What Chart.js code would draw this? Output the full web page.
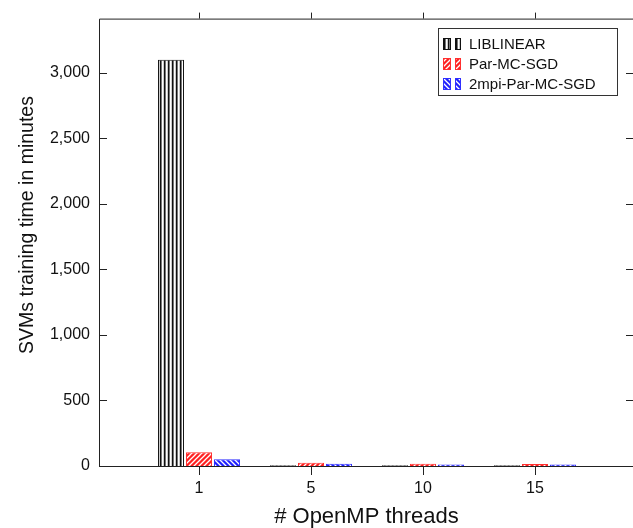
<!DOCTYPE html>
<html>
<head>
<meta charset="utf-8">
<script src="https://cdn.jsdelivr.net/npm/chart.js@4"></script>
<style>
  body { margin: 0; overflow: hidden; background: #fff; }
</style>
</head>
<body>
<canvas id="chart" width="640" height="528"></canvas>
<script>
// values
const threads = ["1", "5", "10", "15"];
const liblinear = [3100, 5, 5, 5];
const parMcSgd = [104, 25, 17, 15];
const mpiParMcSgd = [51, 17, 12, 12];
const seriesNames = ["LIBLINEAR", "Par-MC-SGD", "2mpi-Par-MC-SGD"];
const yTickValues = [0, 500, 1000, 1500, 2000, 2500, 3000];
const yMax = 3415;

const FONT = "'Liberation Sans', Arial, sans-serif";

// hatch fills
function makePattern(kind) {
  const c = document.createElement("canvas");
  const ctx = c.getContext("2d");
  if (kind === "vert") {
    c.width = 4; c.height = 4;
    const cols = ["#111", "#777", "#fff", "#ccc"];
    cols.forEach((col, i) => { ctx.fillStyle = col; ctx.fillRect(i, 0, 1, 4); });
  } else {
    const s = 5;
    c.width = s; c.height = s;
    ctx.fillStyle = kind === "fwd" ? "#ff2020" : "#2020ff";
    ctx.fillRect(0, 0, s, s);
    ctx.strokeStyle = "#fff";
    ctx.lineWidth = 1.3;
    ctx.beginPath();
    if (kind === "fwd") {
      ctx.moveTo(-1, s + 1); ctx.lineTo(s + 1, -1);
      ctx.moveTo(-1, 1); ctx.lineTo(1, -1);
      ctx.moveTo(s - 1, s + 1); ctx.lineTo(s + 1, s - 1);
    } else {
      ctx.moveTo(-1, -1); ctx.lineTo(s + 1, s + 1);
      ctx.moveTo(s - 1, -1); ctx.lineTo(s + 1, 1);
      ctx.moveTo(-1, s - 1); ctx.lineTo(1, s + 1);
    }
    ctx.stroke();
  }
  return document.getElementById("chart").getContext("2d").createPattern(c, "repeat");
}

const fills = [makePattern("vert"), makePattern("fwd"), makePattern("back")];
const edges = ["#111", "#ff3030", "#3030ff"];

const toPoints = arr => arr.map((v, i) => ({ x: i + 1, y: v }));

// frame, mirrored ticks, y title, boxed legend
const framePlugin = {
  id: "frame",
  afterDatasetsDraw(chart) {
    const { ctx, chartArea: a, scales } = chart;
    ctx.save();
    ctx.strokeStyle = "#222";
    ctx.lineWidth = 1;
    ctx.beginPath();
    ctx.moveTo(a.left + 0.5, a.bottom + 0.5);
    ctx.lineTo(a.left + 0.5, a.top + 0.5);
    ctx.lineTo(a.right + 0.5, a.top + 0.5);
    ctx.lineTo(a.right + 0.5, a.bottom + 0.5);
    ctx.lineTo(a.left + 0.5, a.bottom + 0.5);
    scales.y.ticks.forEach(t => {
      const y = Math.round(scales.y.getPixelForValue(t.value)) + 0.5;
      ctx.moveTo(a.left, y); ctx.lineTo(a.left + 8, y);
      ctx.moveTo(a.right, y); ctx.lineTo(a.right - 8, y);
    });
    scales.x.ticks.forEach(t => {
      const x = Math.round(scales.x.getPixelForValue(t.value)) + 0.5;
      ctx.moveTo(x, a.bottom); ctx.lineTo(x, a.bottom + 9);
      ctx.moveTo(x, a.top); ctx.lineTo(x, a.top - 6);
    });
    ctx.stroke();
    ctx.restore();
  },
  afterDraw(chart) {
    const { ctx } = chart;
    ctx.save();
    // y axis title
    ctx.translate(28, 225);
    ctx.rotate(-Math.PI / 2);
    ctx.fillStyle = "#111";
    ctx.font = "19.5px " + FONT;
    ctx.textAlign = "center";
    ctx.textBaseline = "middle";
    ctx.fillText("SVMs training time in minutes", 0, 0);
    ctx.restore();

    // legend
    ctx.save();
    ctx.fillStyle = "#fff";
    ctx.fillRect(438, 28, 179, 67);
    ctx.strokeStyle = "#333";
    ctx.lineWidth = 1;
    ctx.strokeRect(438.5, 28.5, 179, 67);
    ctx.font = "15px " + FONT;
    ctx.textBaseline = "middle";
    chart.data.datasets.forEach((ds, i) => {
      const cy = 44 + i * 20;
      [[443, 8], [455, 6]].forEach(([x, w]) => {
        ctx.fillStyle = ds.backgroundColor;
        ctx.fillRect(x, cy - 6, w, 12);
        ctx.strokeStyle = ds.borderColor;
        ctx.strokeRect(x + 0.5, cy - 5.5, w - 1, 11);
      });
      ctx.fillStyle = "#111";
      ctx.fillText(ds.label, 469, cy + 1);
    });
    ctx.restore();
  }
};

const datasets = [liblinear, parMcSgd, mpiParMcSgd].map((vals, i) => ({
  label: seriesNames[i],
  data: toPoints(vals),
  backgroundColor: fills[i],
  borderColor: edges[i],
  borderWidth: 1,
  categoryPercentage: 0.75,
  barPercentage: 0.93
}));

new Chart(document.getElementById("chart"), {
  type: "bar",
  data: { datasets },
  options: {
    responsive: false,
    animation: false,
    layout: { padding: { top: 16, right: 6, left: 0, bottom: 0 } },
    plugins: {
      legend: { display: false },
      tooltip: { enabled: false }
    },
    scales: {
      x: {
        type: "linear",
        offset: false,
        min: 1 - 100 / 112,
        max: 4 + 99 / 112,
        grid: { display: false, drawTicks: false },
        border: { display: false },
        afterBuildTicks: s => { s.ticks = threads.map((_, i) => ({ value: i + 1 })); },
        afterFit: s => { s.height = 62; },
        ticks: {
          padding: 13,
          color: "#111",
          font: { family: FONT, size: 16 },
          callback: v => threads[v - 1] ?? ""
        },
        title: {
          display: true,
          text: "# OpenMP threads",
          color: "#111",
          font: { family: FONT, size: 22, lineHeight: 1 },
          padding: { top: 0, bottom: 0 }
        }
      },
      y: {
        min: 0,
        max: yMax,
        grid: { display: false, drawTicks: false },
        border: { display: false },
        afterBuildTicks: s => { s.ticks = yTickValues.map(v => ({ value: v })); },
        afterFit: s => { s.width = 99; },
        ticks: {
          padding: 9,
          color: "#111",
          font: { family: FONT, size: 16 },
          callback: v => v.toLocaleString("en-US")
        }
      }
    }
  },
  plugins: [framePlugin]
});
</script>
</body>
</html>
